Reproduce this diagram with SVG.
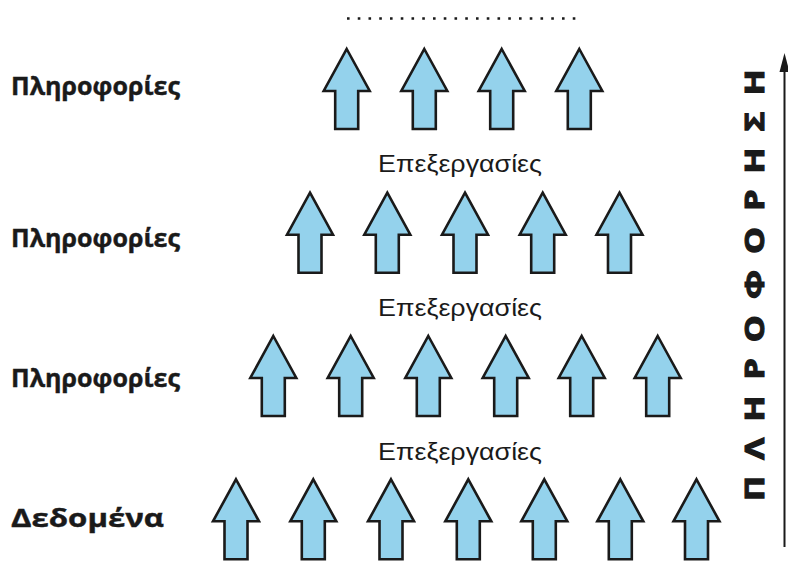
<svg xmlns="http://www.w3.org/2000/svg" xmlns:xlink="http://www.w3.org/1999/xlink" width="788" height="585" viewBox="0 0 788 585">
<style>
.arr{fill:#94D2EC;stroke:#1a1a1a;stroke-width:2.6;stroke-linejoin:miter}
.lbl{font-family:"Open Sans","Liberation Sans",sans-serif;font-weight:bold;font-size:24.5px;fill:#1a1a1a;stroke:#1a1a1a;stroke-width:0.4}
.proc{font-family:"Liberation Sans","Arial",sans-serif;font-size:23.5px;fill:#1a1a1a;text-anchor:middle}
.side{font-family:"Open Sans","Liberation Sans",sans-serif;font-weight:bold;font-size:26px;fill:#1a1a1a;stroke:#1a1a1a;stroke-width:1.1}
</style>
<defs>
<path id="up" class="arr" d="M0,0 L23,42 L11.5,42 L11.5,80 L-11.5,80 L-11.5,42 L-23,42 Z"/>
</defs>
<rect width="788" height="585" fill="#ffffff"/>

<g id="dots">
<line x1="347" y1="18.5" x2="576" y2="18.5" stroke="#1a1a1a" stroke-width="2.6" stroke-dasharray="2.6 8.15"/>
</g>

<g id="row4">
<use xlink:href="#up" x="346.7" y="49"/>
<use xlink:href="#up" x="424.3" y="49"/>
<use xlink:href="#up" x="501.7" y="49"/>
<use xlink:href="#up" x="579.3" y="49"/>
</g>
<g id="row3">
<use xlink:href="#up" x="310" y="192.7"/>
<use xlink:href="#up" x="387.3" y="192.7"/>
<use xlink:href="#up" x="465" y="192.7"/>
<use xlink:href="#up" x="542.7" y="192.7"/>
<use xlink:href="#up" x="619.5" y="192.7"/>
</g>
<g id="row2">
<use xlink:href="#up" x="273.3" y="336"/>
<use xlink:href="#up" x="350.7" y="336"/>
<use xlink:href="#up" x="428.3" y="336"/>
<use xlink:href="#up" x="505.7" y="336"/>
<use xlink:href="#up" x="581.7" y="336"/>
<use xlink:href="#up" x="657.7" y="336"/>
</g>
<g id="row1">
<use xlink:href="#up" x="236" y="479.3"/>
<use xlink:href="#up" x="313.3" y="479.3"/>
<use xlink:href="#up" x="391" y="479.3"/>
<use xlink:href="#up" x="468.3" y="479.3"/>
<use xlink:href="#up" x="544.3" y="479.3"/>
<use xlink:href="#up" x="620.3" y="479.3"/>
<use xlink:href="#up" x="696.5" y="479.3"/>
</g>

<g id="labels">
<text class="lbl" x="11" y="95" textLength="169" lengthAdjust="spacingAndGlyphs">Πληροφορίες</text>
<text class="lbl" x="11" y="247.3" textLength="169" lengthAdjust="spacingAndGlyphs">Πληροφορίες</text>
<text class="lbl" x="11" y="387.3" textLength="169" lengthAdjust="spacingAndGlyphs">Πληροφορίες</text>
<text class="lbl" x="11" y="527.3" textLength="153" lengthAdjust="spacingAndGlyphs">Δεδομένα</text>
</g>

<g id="processes">
<text class="proc" x="460" y="172.3" textLength="164" lengthAdjust="spacingAndGlyphs">Επεξεργασίες</text>
<text class="proc" x="460" y="315.7" textLength="164" lengthAdjust="spacingAndGlyphs">Επεξεργασίες</text>
<text class="proc" x="460" y="459.7" textLength="164" lengthAdjust="spacingAndGlyphs">Επεξεργασίες</text>
</g>

<g id="connectors">
<line x1="784.5" y1="547" x2="784.5" y2="68" stroke="#1a1a1a" stroke-width="2"/>
<polygon points="784.5,53 779.5,72 789.5,72" fill="#1a1a1a"/>
</g>

<g id="side-label">
<text class="side" transform="translate(763.5,501) rotate(-90) scale(1.3,1)" x="0" y="0" textLength="332" lengthAdjust="spacing">ΠΛΗΡΟΦΟΡΗΣΗ</text>
</g>
</svg>
